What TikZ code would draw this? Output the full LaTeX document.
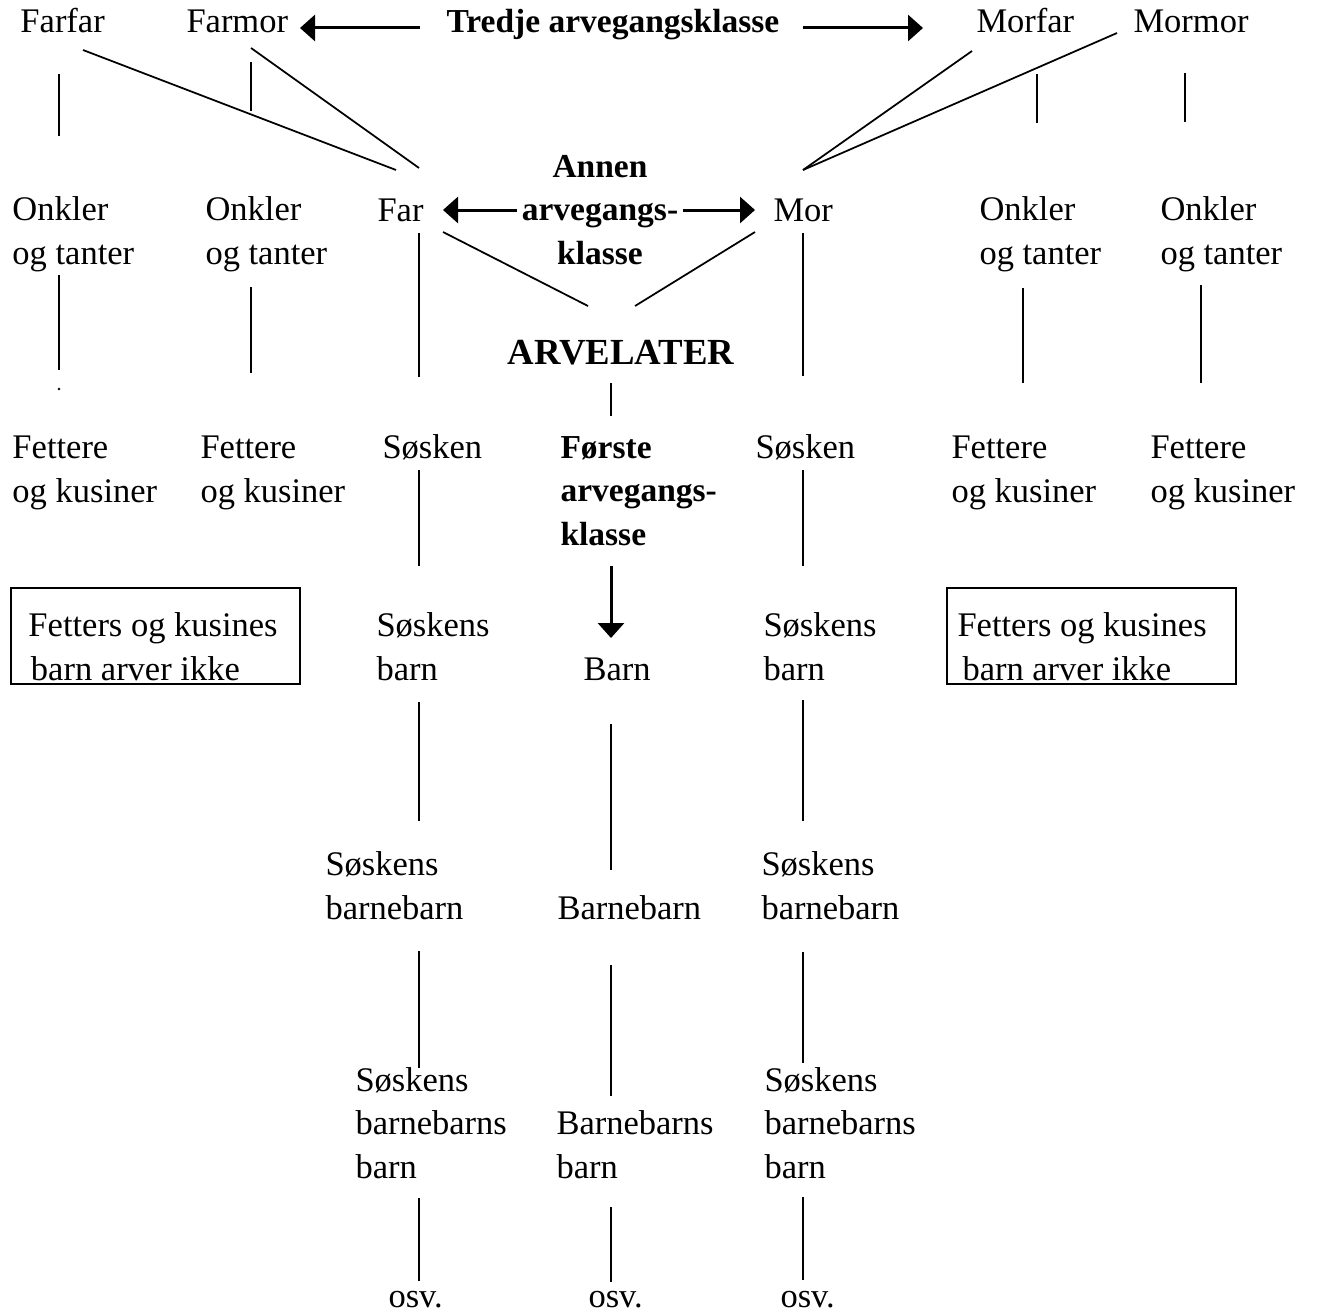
\documentclass[tikz,border=0pt]{standalone}
\usepackage{fontspec}
\setmainfont{Liberation Serif}
\usetikzlibrary{arrows.meta}

\tikzset{
    navn/.style={anchor=base west, inner sep=0pt, align=left, font=\fontsize{13.8}{17.4}\selectfont},
    klasse/.style={navn, font=\fontsize{13.4}{17.4}\selectfont\bfseries},
    tie/.style={line width=0.7pt},
    pil/.style={-{Triangle[length=6pt, width=10.4pt]}, line width=1.2pt},
    boks/.style={line width=0.7pt}
}

\begin{document}
\begin{tikzpicture}[x=0.4pt, y=-0.4pt]
    \useasboundingbox (0,0) rectangle (1317,1312);

    % besteforeldre
    \node[navn] (farfar) at (20,33) {Farfar};
    \node[navn] (farmor) at (186,33) {Farmor};
    \node[klasse] (tredje) at (446,33) {Tredje arvegangsklasse};
    \node[navn] (morfar) at (976,33) {Morfar};
    \node[navn] (mormor) at (1133,33) {Mormor};

    \draw[pil] (420,28) -- (300,28);
    \draw[pil] (803,28) -- (923,28);

    \draw[tie] (83,50) -- (396,170);
    \draw[tie] (251,48) -- (419,168);
    \draw[tie] (972,51) -- (803,170);
    \draw[tie] (1117,33) -- (803,170);

    % foreldre, onkler og tanter (base = siste linje)
    \node[navn] (onkler1) at (12,264) {Onkler\\og tanter};
    \node[navn] (onkler2) at (205,264) {Onkler\\og tanter};
    \node[navn] (far) at (377,221) {Far};
    \node[klasse, align=center, anchor=base] (annen) at (600,264) {Annen\\arvegangs-\\klasse};
    \node[navn] (mor) at (773,221) {Mor};
    \node[navn] (onkler3) at (979,264) {Onkler\\og tanter};
    \node[navn] (onkler4) at (1160,264) {Onkler\\og tanter};

    \draw[pil] (517,210) -- (443,210);
    \draw[pil] (683,210) -- (755,210);

    \draw[tie] (443,232) -- (588,306);
    \draw[tie] (755,232) -- (635,306);

    \node[navn, font=\fontsize{14.7}{18}\selectfont\bfseries] (arvelater) at (507,364) {ARVELATER};

    % fettere, soesken og foerste klasse
    \node[navn] (fettere1) at (12,502) {Fettere\\og kusiner};
    \node[navn] (fettere2) at (200,502) {Fettere\\og kusiner};
    \node[navn] (soskenL) at (382,458) {Søsken};
    \node[klasse] (forste) at (560,545) {Første\\arvegangs-\\klasse};
    \node[navn] (soskenR) at (755,458) {Søsken};
    \node[navn] (fettere3) at (951,502) {Fettere\\og kusiner};
    \node[navn] (fettere4) at (1150,502) {Fettere\\og kusiner};

    \draw[pil] (611,566) -- (611,638);

    % barn
    \draw[boks] (11,588) rectangle (300,684);
    \draw[boks] (947,588) rectangle (1236,684);
    \node[navn] (ikkeL) at (28,680) {Fetters og kusines\\\hspace*{1pt}barn arver ikke};
    \node[navn] (ikkeR) at (957,680) {Fetters og kusines\\\hspace*{2pt}barn arver ikke};
    \node[navn] (soskensL) at (376,680) {Søskens\\barn};
    \node[navn] (barn) at (583,680) {Barn};
    \node[navn] (soskensR) at (763,680) {Søskens\\barn};

    % barnebarn
    \node[navn] (sbbL) at (325,919) {Søskens\\barnebarn};
    \node[navn] (barnebarn) at (557,919) {Barnebarn};
    \node[navn] (sbbR) at (761,919) {Søskens\\barnebarn};

    % barnebarns barn
    \node[navn] (sbbbL) at (355,1178) {Søskens\\barnebarns\\barn};
    \node[navn] (bbb) at (556,1178) {Barnebarns\\barn};
    \node[navn] (sbbbR) at (764,1178) {Søskens\\barnebarns\\barn};

    \node[navn] (osvL) at (388,1307) {osv.};
    \node[navn] (osvM) at (588,1307) {osv.};
    \node[navn] (osvR) at (780,1307) {osv.};

    % loddrette streker
    \foreach \x/\a/\b in {251/62/111, 59/74/136, 1037/74/123, 1185/73/122,
            59/275/370, 251/287/373, 419/233/377, 803/233/376, 1023/288/383, 1201/285/383, 611/383/416,
            419/470/566, 803/470/566,
            419/702/821, 611/724/870, 803/700/821,
            419/951/1068, 611/965/1096, 803/952/1063,
            419/1198/1281, 611/1207/1282, 803/1197/1280} {
        \draw[tie] (\x,\a) -- (\x,\b);
    }
    \fill (59,389) circle[radius=1.3];
\end{tikzpicture}
\end{document}
